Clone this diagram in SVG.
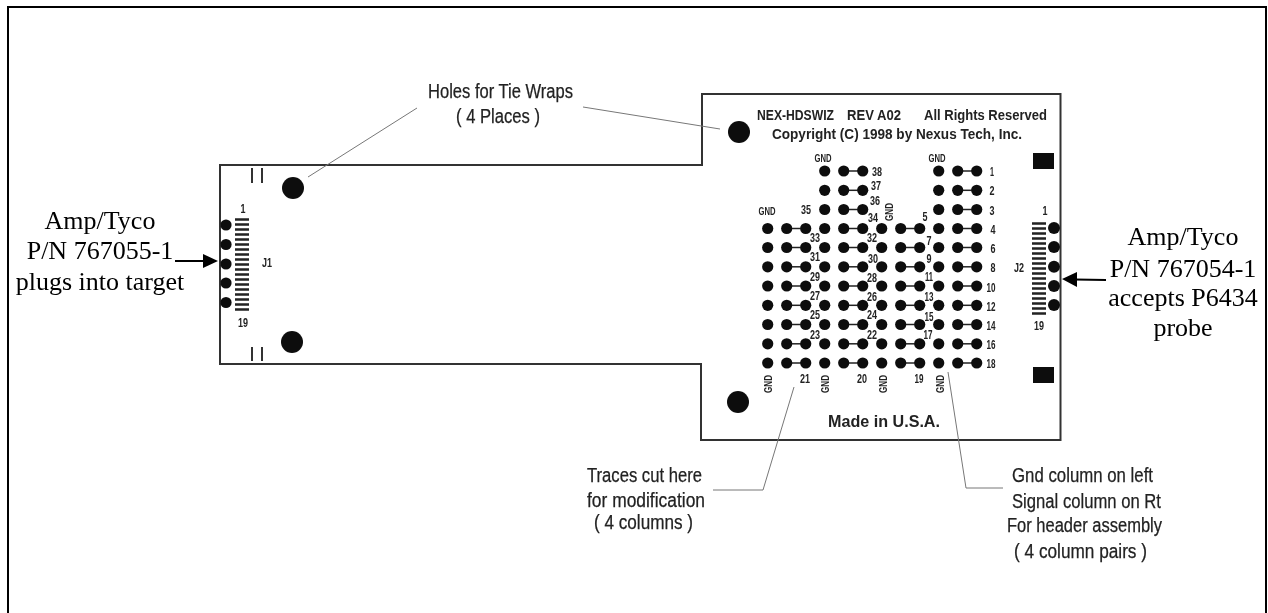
<svg xmlns="http://www.w3.org/2000/svg" xmlns:xlink="http://www.w3.org/1999/xlink" width="1268" height="613" viewBox="0 0 1268 613">
<style>
.tm{font-family:"Liberation Serif","Times New Roman",serif;font-size:26px;fill:#000;text-anchor:middle}
.cl{font-family:"Liberation Sans Narrow","Liberation Sans",sans-serif;font-size:20px;fill:#222;stroke:#222;stroke-width:.25}
.b{font-family:"Liberation Sans Narrow","Liberation Sans",sans-serif;font-weight:bold;fill:#222}
.s{font-size:12.500px;text-anchor:middle}
.g{font-size:11px;text-anchor:middle}
.o{fill:none;stroke:#333;stroke-width:2}
.l{fill:none;stroke:#777;stroke-width:1}
.a{fill:none;stroke:#000;stroke-width:2}
.k{fill:#111}
.c{stroke:#333;stroke-width:2;fill:none}
.soft{filter:url(#bl)}
</style>
<defs>
<filter id="bl" x="-5%" y="-5%" width="110%" height="110%"><feGaussianBlur stdDeviation="0.45"/></filter>
<g id="t"><path d="M19 0H38" stroke="#222" stroke-width="1.5"/><circle cx="0" cy="0" r="5.6" class="k"/><circle cx="19" cy="0" r="5.6" class="k"/><circle cx="38" cy="0" r="5.6" class="k"/></g>
<g id="r"><use xlink:href="#t" href="#t" x="767.7"/><use xlink:href="#t" href="#t" x="824.7"/><use xlink:href="#t" href="#t" x="881.7"/><use xlink:href="#t" href="#t" x="938.7"/></g>
<path id="cb" d="M0 0.5h14M0 5.5h14M0 10.5h14M0 15.5h14M0 20.5h14M0 25.5h14M0 30.5h14M0 35.5h14M0 40.5h14M0 45.5h14M0 50.5h14M0 55.5h14M0 60.5h14M0 65.5h14M0 70.5h14M0 75.5h14M0 80.5h14M0 85.5h14M0 90.5h14" stroke="#222" stroke-width="2.4"/>
</defs>
<rect width="1268" height="613" fill="#fff"/>
<path id="frame" d="M8 613V7H1266V613" fill="none" stroke="#000" stroke-width="2"/>
<g id="board" class="soft">
<path class="o" d="M220 165H702V94H1060.500V440H701V364H220Z"/>
<g id="holes" class="k"><circle cx="293" cy="188" r="11"/><circle cx="292" cy="342" r="11"/><circle cx="739" cy="132" r="11"/><circle cx="738" cy="402" r="11"/></g>
<path class="c" d="M252 168V183M262 168V183M252 347V361M262 347V361"/>
<g id="squares" class="k"><rect x="1033" y="153" width="21" height="16"/><rect x="1033" y="367" width="21" height="16"/></g>
<text class="b" x="757" y="120" font-size="15" textLength="77" lengthAdjust="spacingAndGlyphs">NEX-HDSWIZ</text>
<text class="b" x="847" y="120" font-size="15" textLength="54" lengthAdjust="spacingAndGlyphs">REV A02</text>
<text class="b" x="924" y="120" font-size="15" textLength="123" lengthAdjust="spacingAndGlyphs">All Rights Reserved</text>
<text class="b" x="772" y="139" font-size="15" textLength="250" lengthAdjust="spacingAndGlyphs">Copyright (C) 1998 by Nexus Tech, Inc.</text>
<text class="b" x="828" y="427" font-size="17" textLength="112" lengthAdjust="spacingAndGlyphs">Made in U.S.A.</text>
</g>
<g id="J1" class="soft">
<circle class="k" cx="226" cy="225" r="5.6"/><circle class="k" cx="226" cy="244.500" r="5.6"/><circle class="k" cx="226" cy="264" r="5.6"/><circle class="k" cx="226" cy="283" r="5.6"/><circle class="k" cx="226" cy="302.500" r="5.6"/>
<use xlink:href="#cb" href="#cb" x="235" y="219"/>
<text class="b s" x="243" y="213" textLength="5" lengthAdjust="spacingAndGlyphs">1</text><text class="b s" x="243" y="327" textLength="10" lengthAdjust="spacingAndGlyphs">19</text><text class="b s" x="267" y="267" textLength="10" lengthAdjust="spacingAndGlyphs">J1</text>
</g>
<g id="J2" class="soft">
<circle class="k" cx="1054" cy="228" r="6"/><circle class="k" cx="1054" cy="247" r="6"/><circle class="k" cx="1054" cy="266.700" r="6"/><circle class="k" cx="1054" cy="286" r="6"/><circle class="k" cx="1054" cy="305" r="6"/>
<use xlink:href="#cb" href="#cb" x="1032" y="223"/>
<text class="b s" x="1045" y="215" textLength="5" lengthAdjust="spacingAndGlyphs">1</text><text class="b s" x="1039" y="330" textLength="10" lengthAdjust="spacingAndGlyphs">19</text><text class="b s" x="1019" y="272" textLength="10" lengthAdjust="spacingAndGlyphs">J2</text>
</g>
<g id="pads" class="soft">
<use xlink:href="#t" href="#t" x="824.7" y="171"/><use xlink:href="#t" href="#t" x="938.7" y="171"/>
<use xlink:href="#t" href="#t" x="824.7" y="190.3"/><use xlink:href="#t" href="#t" x="938.7" y="190.3"/>
<use xlink:href="#t" href="#t" x="824.7" y="209.5"/><use xlink:href="#t" href="#t" x="938.7" y="209.5"/>
<use xlink:href="#r" href="#r" y="228.5"/><use xlink:href="#r" href="#r" y="247.5"/><use xlink:href="#r" href="#r" y="266.8"/><use xlink:href="#r" href="#r" y="286"/><use xlink:href="#r" href="#r" y="305.3"/><use xlink:href="#r" href="#r" y="324.5"/><use xlink:href="#r" href="#r" y="343.8"/><use xlink:href="#r" href="#r" y="363"/>
</g>
<g id="pad-labels" class="b s soft" lengthAdjust="spacingAndGlyphs">
<text x="877" y="176" textLength="10" lengthAdjust="spacingAndGlyphs">38</text><text x="876" y="190" textLength="10" lengthAdjust="spacingAndGlyphs">37</text><text x="875" y="205" textLength="10" lengthAdjust="spacingAndGlyphs">36</text><text x="806" y="214" textLength="10" lengthAdjust="spacingAndGlyphs">35</text><text x="873" y="222" textLength="10" lengthAdjust="spacingAndGlyphs">34</text><text x="925" y="221" textLength="5" lengthAdjust="spacingAndGlyphs">5</text>
<text x="815" y="242" textLength="10" lengthAdjust="spacingAndGlyphs">33</text><text x="872" y="242" textLength="10" lengthAdjust="spacingAndGlyphs">32</text><text x="929" y="245" textLength="5" lengthAdjust="spacingAndGlyphs">7</text>
<text x="815" y="261" textLength="10" lengthAdjust="spacingAndGlyphs">31</text><text x="873" y="263" textLength="10" lengthAdjust="spacingAndGlyphs">30</text><text x="929" y="263" textLength="5" lengthAdjust="spacingAndGlyphs">9</text>
<text x="815" y="281" textLength="10" lengthAdjust="spacingAndGlyphs">29</text><text x="872" y="282" textLength="10" lengthAdjust="spacingAndGlyphs">28</text><text x="929" y="281" textLength="8" lengthAdjust="spacingAndGlyphs">11</text>
<text x="815" y="300" textLength="10" lengthAdjust="spacingAndGlyphs">27</text><text x="872" y="301" textLength="10" lengthAdjust="spacingAndGlyphs">26</text><text x="929" y="301" textLength="9" lengthAdjust="spacingAndGlyphs">13</text>
<text x="815" y="319" textLength="10" lengthAdjust="spacingAndGlyphs">25</text><text x="872" y="319" textLength="10" lengthAdjust="spacingAndGlyphs">24</text><text x="929" y="321" textLength="9" lengthAdjust="spacingAndGlyphs">15</text>
<text x="815" y="339" textLength="10" lengthAdjust="spacingAndGlyphs">23</text><text x="872" y="339" textLength="10" lengthAdjust="spacingAndGlyphs">22</text><text x="928" y="339" textLength="9" lengthAdjust="spacingAndGlyphs">17</text>
<text x="805" y="383" textLength="10" lengthAdjust="spacingAndGlyphs">21</text><text x="862" y="383" textLength="10" lengthAdjust="spacingAndGlyphs">20</text><text x="919" y="383" textLength="9" lengthAdjust="spacingAndGlyphs">19</text>
<text x="992" y="176" textLength="4" lengthAdjust="spacingAndGlyphs">1</text><text x="992" y="195" textLength="5" lengthAdjust="spacingAndGlyphs">2</text><text x="992" y="215" textLength="5" lengthAdjust="spacingAndGlyphs">3</text><text x="993" y="234" textLength="5" lengthAdjust="spacingAndGlyphs">4</text><text x="993" y="253" textLength="5" lengthAdjust="spacingAndGlyphs">6</text><text x="993" y="272" textLength="5" lengthAdjust="spacingAndGlyphs">8</text><text x="991" y="292" textLength="9" lengthAdjust="spacingAndGlyphs">10</text><text x="991" y="311" textLength="9" lengthAdjust="spacingAndGlyphs">12</text><text x="991" y="330" textLength="9" lengthAdjust="spacingAndGlyphs">14</text><text x="991" y="349" textLength="9" lengthAdjust="spacingAndGlyphs">16</text><text x="991" y="368" textLength="9" lengthAdjust="spacingAndGlyphs">18</text>
</g>
<g id="gnd-labels" class="b g soft">
<text x="823" y="162" textLength="17" lengthAdjust="spacingAndGlyphs">GND</text><text x="937" y="162" textLength="17" lengthAdjust="spacingAndGlyphs">GND</text><text x="767" y="215" textLength="17" lengthAdjust="spacingAndGlyphs">GND</text>
<text transform="translate(893 212) rotate(-90)" textLength="18" lengthAdjust="spacingAndGlyphs">GND</text>
<text transform="translate(772 384) rotate(-90)" textLength="18" lengthAdjust="spacingAndGlyphs">GND</text><text transform="translate(829 384) rotate(-90)" textLength="18" lengthAdjust="spacingAndGlyphs">GND</text><text transform="translate(887 384) rotate(-90)" textLength="18" lengthAdjust="spacingAndGlyphs">GND</text><text transform="translate(944 384) rotate(-90)" textLength="18" lengthAdjust="spacingAndGlyphs">GND</text>
</g>
<g id="connectors">
<path class="l" d="M417 108L308 177"/>
<path class="l" d="M583 107L720 129"/>
<path class="l" d="M794 387L763 490H713"/>
<path class="l" d="M948 372L966 488H1003"/>
<path class="a" d="M175 261H205"/><path d="M218 261L203 254V268Z" fill="#000"/>
<path class="a" d="M1106 280L1075 279.500"/><path d="M1062 279L1077 272V287Z" fill="#000"/>
</g>
<g id="callouts">
<text class="cl" x="428" y="98" textLength="145" lengthAdjust="spacingAndGlyphs">Holes for Tie Wraps</text>
<text class="cl" x="456" y="123" textLength="84" lengthAdjust="spacingAndGlyphs">( 4 Places )</text>
<text class="cl" x="587" y="482" textLength="115" lengthAdjust="spacingAndGlyphs">Traces cut here</text>
<text class="cl" x="587" y="507" textLength="118" lengthAdjust="spacingAndGlyphs">for modification</text>
<text class="cl" x="594" y="529" textLength="99" lengthAdjust="spacingAndGlyphs">( 4 columns )</text>
<text class="cl" x="1012" y="482" textLength="141" lengthAdjust="spacingAndGlyphs">Gnd column on left</text>
<text class="cl" x="1012" y="508" textLength="149" lengthAdjust="spacingAndGlyphs">Signal column on Rt</text>
<text class="cl" x="1007" y="532" textLength="155" lengthAdjust="spacingAndGlyphs">For header assembly</text>
<text class="cl" x="1014" y="558" textLength="133" lengthAdjust="spacingAndGlyphs">( 4 column pairs )</text>
<text class="tm" x="100" y="229">Amp/Tyco</text><text class="tm" x="100" y="259">P/N 767055-1</text><text class="tm" x="100" y="290">plugs into target</text>
<text class="tm" x="1183" y="245">Amp/Tyco</text><text class="tm" x="1183" y="277">P/N 767054-1</text><text class="tm" x="1183" y="306">accepts P6434</text><text class="tm" x="1183" y="336">probe</text>
</g>
</svg>
